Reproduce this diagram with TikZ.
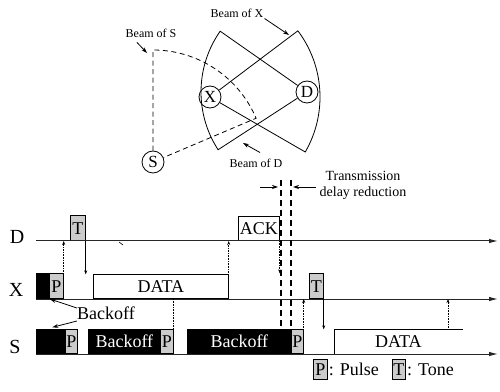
\documentclass[tikz,border=0pt]{standalone}
\usepackage{fontspec}
\setmainfont{Liberation Serif}
\usetikzlibrary{arrows.meta, calc, positioning}

\begin{document}
\begin{tikzpicture}[x=1pt, y=1pt,
    lbl/.style={font=\fontsize{12}{14}\selectfont, inner sep=1pt},
    txt/.style={font=\fontsize{18}{20}\selectfont, inner sep=0pt},
    rowname/.style={font=\fontsize{20}{22}\selectfont, inner sep=0pt},
    station/.style={draw, circle, line width=0.8pt, minimum size=22pt, inner sep=0pt, font=\fontsize{17}{19}\selectfont},
    beam/.style={line width=0.8pt},
    slot/.style={draw, line width=0.7pt, inner sep=0pt, anchor=south west, minimum height=25pt, font=\fontsize{18}{20}\selectfont},
    pulse/.style={slot, fill=gray!40},
    backoff/.style={slot, fill=black, text=white},
    frame/.style={slot, fill=white},
    timeline/.style={line width=1pt, black!85, -{Latex[length=9pt,width=4.5pt]}},
    trig/.style={line width=0.6pt, densely dotted, -{Stealth[length=4pt,width=3pt]}},
    cue/.style={line width=0.6pt, -{Stealth[length=4pt,width=3pt]}},
    note/.style={line width=0.8pt, -{Stealth[length=6pt,width=4pt]}},
    cut/.style={line width=2pt, dash pattern=on 6pt off 4pt}
]
\useasboundingbox (0,0) rectangle (500,391);

% stations and their beams
\node[station] (S) at (153,229) {S};
\node[station] (X) at (210,294) {X};
\node[station] (D) at (307,299) {D};
\draw[beam, dash pattern=on 5pt off 3.5pt] (S) -- ($(S)+(90:112)$) arc[start angle=90, end angle=23, radius=112] -- (S);
\draw[beam] (X) -- ($(X)+(37:110)$) arc[start angle=37, end angle=-30, radius=110] -- (X);
\draw[beam] (D) -- ($(D)+(145:106)$) arc[start angle=145, end angle=213, radius=106] -- (D);

% beam labels
\node[lbl] (bx) at (237,378) {Beam of X};
\node[lbl] (bs) at (151,358) {Beam of S};
\node[lbl] (bd) at (256,228) {Beam of D};
\coordinate (bxend) at (289,356);
\coordinate (bsend) at (147,338);
\coordinate (bdend) at (243,248);
\draw[note] (bx.south east) -- (bxend);
\draw[note] ([xshift=-14pt,yshift=-4pt]bs.south) -- (bsend);
\draw[note] ([xshift=4pt,yshift=5pt]bd.north) -- (bdend);

% time lines
\coordinate (d0) at (36,150); \coordinate (d1) at (498,150);
\coordinate (x0) at (36,92);  \coordinate (x1) at (498,92);
\coordinate (s0) at (36,37);  \coordinate (s1) at (498,37);
\node[rowname] (dname) at (17,154) {D};
\node[rowname] (xname) at (16,101) {X};
\node[rowname] (sname) at (15,44) {S};

% D row
\node[pulse, minimum width=15pt] (dt) at (70,150) {T};
\node[frame, minimum width=41pt, minimum height=24pt] (ack) at (238,150) {ACK};
% X row
\node[backoff, minimum width=13pt] (xb) at (36,92) {};
\node[pulse, minimum width=14pt] (xp) at (49,92) {P};
\node[frame, minimum width=135pt, minimum height=24pt] (xdata) at (93,92) {DATA};
\node[pulse, minimum width=14pt] (xt) at (309,92) {T};
% S row
\node[backoff, minimum width=29pt, minimum height=24pt] (sb1) at (36,37) {};
\node[pulse, minimum width=12pt, minimum height=24pt] (sp1) at (65,37) {P};
\node[backoff, minimum width=72pt, minimum height=24pt] (sb2) at (88,37) {Backoff};
\node[pulse, minimum width=13pt, minimum height=24pt] (sp2) at (160,37) {P};
\node[backoff, minimum width=104pt, minimum height=24pt] (sb3) at (187,37) {Backoff};
\node[pulse, minimum width=12pt, minimum height=24pt] (sp3) at (291,37) {P};
\node[slot, draw=none, minimum width=128pt, minimum height=24pt] (sdata) at (334,37) {DATA};
\draw[line width=0.7pt] (sdata.south west) |- (sdata.north east);

\draw[timeline] (d0) -- (d1);
\draw[timeline] (x0) -- (x1);
\draw[timeline] (s0) -- (s1);
\draw[line width=0.6pt] (119,149) -- (123,146);

% triggers between rows
\draw[trig] (xp.north east) -- (xp.north east |- d0);
\draw[cue] (dt.south east) -- (dt.south east |- xdata.north);
\draw[trig] (xdata.north east) -- (xdata.north east |- d0);
\draw[trig] (ack.south east) -- (ack.south east |- xt.north);
\draw[line width=0.6pt, densely dotted] (sp2.north east |- x0) -- (sp2.north east);
\draw[trig] (sp3.north east) -- (sp3.north east |- x0);
\draw[cue] (xt.south east) -- (xt.south east |- sp3.north);
\coordinate (sack) at ([xshift=114pt]sdata.north west);
\draw[trig] (sack) -- (sack |- x0);

% backoff label
\node[txt] (bo) at (106,78) {Backoff};
\draw[note] ([yshift=5pt]bo.west) -- (xb.south east);
\draw[note] ([yshift=-8pt]bo.west) -- ([xshift=1.5pt,yshift=2pt]sb1.north);

% delay reduction
\coordinate (r0) at (281,211); \coordinate (r1) at (291,211);
\draw[cut] (r0) -- (r0 |- sb3.north);
\draw[cut] (r1) -- (r1 |- sb3.north);
\node[align=center, font=\fontsize{14}{16}\selectfont] (tdr) at (363,206) {Transmission\\delay reduction};
\draw[note] ([xshift=-21pt,yshift=-7pt]r0) -- ([xshift=-3pt,yshift=-7pt]r0);
\draw[note] ([yshift=-2pt]tdr.west) -- ([xshift=2pt,yshift=-7pt]r1);

% legend
\node[pulse, minimum width=14pt, minimum height=20pt] (lp) at (313,11) {P};
\node[txt, right=1pt of lp] (lpt) {: Pulse};
\node[pulse, minimum width=13pt, minimum height=20pt, right=13pt of lpt] (lt) {T};
\node[txt, right=1pt of lt] (ltt) {: Tone};
\end{tikzpicture}
\end{document}
